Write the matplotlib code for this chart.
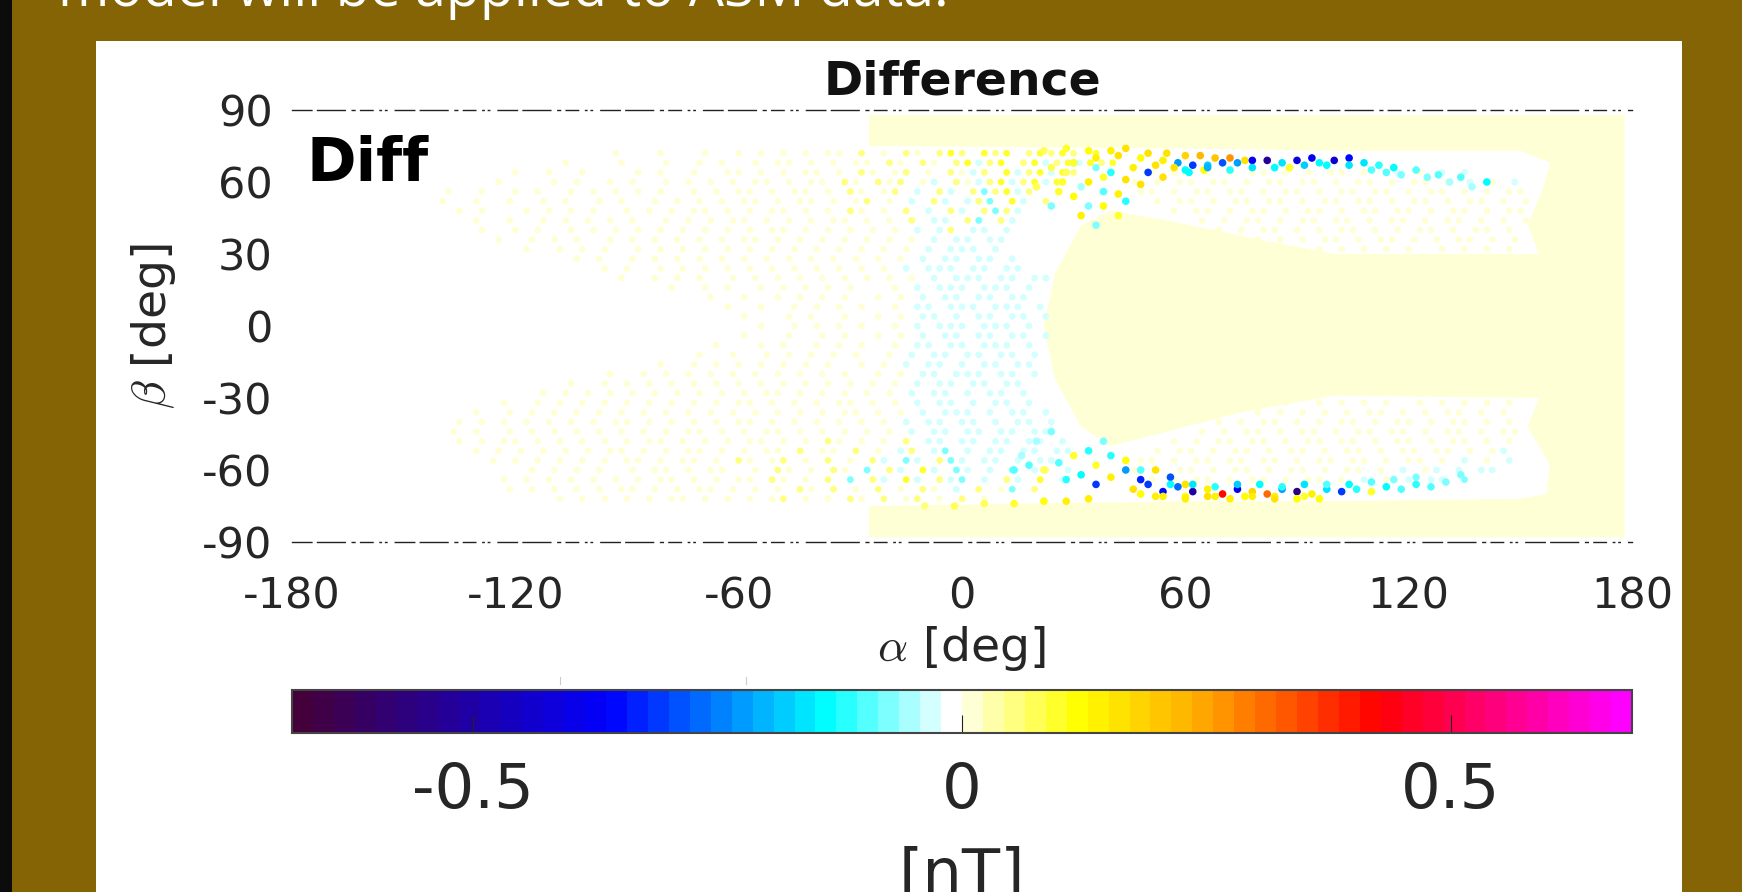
import matplotlib
matplotlib.use('Agg')
import matplotlib.pyplot as plt
from matplotlib.cm import ScalarMappable
from matplotlib.colors import LinearSegmentedColormap, Normalize
from matplotlib.lines import Line2D
from matplotlib.patches import Rectangle

W, H = 1742, 892

# solid pale region of the difference map
solid_alpha = [-25, 178, 178, -25, -25, 60, 100, 150, 157, 158, 152, 155, 100, 75, 55, 40, 32, 25, 22,
               25, 32, 40, 55, 80, 100, 155, 152, 156, 158, 150, 100, 60, -25]
solid_beta = [88, 88, -88, -88, -75, -73, -73, -72, -70, -58, -42, -30, -29, -36, -44, -50, -42, -22, 0,
              22, 42, 48, 44, 36, 30, 30, 42, 57, 68, 73, 73, 74, 75]

# stipple read row by row, one character per 3 deg of alpha, rows 4 deg of beta apart
# left block starts at alpha -150, beta 72
left_rows = [
    ".......... .........y ...y...y.. y.y.y.y.yy .u.y.uy.uY u.YuY.uYuY u.Y",
    ".......... ....y....y ...y..y.y. .y.yy.y.y. yy.uy.uy.u YcuY.uYcuY cYuY",
    ".......... y..y..y... .y.y..y..y y.y.y.yy.y .uy.yu.y.u ycu.YcuYcY u",
    "........y. ...y.y..y. y..y.y.y.y .yy.y.yy.u y.uyu.yc.u ycuYcuYcY",
    "....y..y.. y.y..y.y.y .y.y..y.y. yy.y.yy.y. uy.yu.c.uc .uCuYcu",
    "...y..y..y ..y.y..y.y ..y.y.y.y. yy.y.yy.y. yu.y.c.uc. cuC.Yc.u",
    ".....y.y.. .y.y.y.y.. y.y.y.yy.y .y.yy.y.y. uy.y.u.c.u c.uCuc",
    "......y..y ..y.y.y.y. y..y.y.y.y y.y.y.y.yy .y.y.u.cc. uC.uc",
    ".......y.. y.y..y.y.y .y.y.y.y.y .y.yy.y.y. y.y.y.c.cu .cc.c",
    "........y. .y.y.y..y. y.y.y.y.y. yy.y.y.y.y .y.y.y.c.c c.cc",
    ".......... .y..y.y.y. .y.y.y.y.y .y.y.y.y.y .y.y.y.c.c cc.c",
    ".......... .....y.y.. y.y.y.y.y. y.y.y.y.y. y.y.y.c.cc .cc.c",
    ".......... ........y. y..y.y.y.y .y.y.y.y.y .y.y.c.ccc .cc.cc",
    ".......... .........y ..y.y.y..y .y.y.y.y.y .y.y.y.c.c cc.cc.cc",
    ".......... .......... ....y..y.y ..y.y.y.y. y...y.c.cc c.ccc.c",
    ".......... .......... .......y.. y..y.y.y.y ..y.y.c.cc .cc.cc",
    ".......... .......... .........y ..y..y.y.y .y..y.cc.c cc.ccc.c",
    ".......... .......... .......... y...y.y..y ..y.y.cc.c .cc.cc.c",
    ".......... .......... .......... ..y..y.y.y .y..y.c.cc c.ccc.c",
    ".......... .......... .......... y...y..y.y ..y.y.c.cc .cc.cc.c",
    ".......... .......... ........y. ..y.y..y.y .y..y.cc.c c.ccc.c",
    ".......... .......... ......y..y ..y.y.y.y. y..y.c.cc. cc.cc.c",
    ".......... .......... ...y..y.y. y.y.y.y.y. .y.y.c.cc. c.cc.cc",
    ".......... ........y. .y.y.y.y.y .y.y.y.y.y ..y.y.cc.c cc.cc.c",
    ".......... .....y..y. y.y.y.y.y. y.y.y.y.y. y.y.y.c.cc .cc.cc",
    ".......... ..y.y.y.y. y.y.y.y.y. y.yy.y.y.y .y.y.c.cc. c.cc.c",
    ".........y ..y.y.y.y. y.y.y.y.y. yy.y.y.y.y y.y.y.c.cc .c.cc.c",
    "......y..y .y.y.y.y.y .y.y.y.y.y .y.y.y.y.y y.y.y.c.cc c.c.cc.c",
    ".....y.y.y .y.y.y.y.y y.y.y.y.y. yy.y.y.y.y .y.y.c.cc. cc.c.cc.c",
    "....y.y..y .y.y.y.y.y .y.y.yy.y. y.yy.y.y.y .y.y.c.cc. cc.cc.cc",
    ".....y.y.y y.y.y.y.y. y.yy.y.y.y .yy.y.y.uy .y.y.u.cc. cc.cc.cc.c",
    "......y.y. y.y.y.y.yy .y.y.yy.y. y.yy.u.yy. u.y.cu.cC. c.cc.cc.cc",
    "........y. y.y.y.y.y. yy.y.yy.y. uy.yu.y.u. y.uc.Cc.uC c.cc.c.cc",
    ".......... .y.y.y.y.. y.yy.y.yy. .y.uy.y.uy .C.uc.Yc.C c.c.C.cu.c",
    ".........y .y.y.y.y.y .y.yy.y.y. yy.uy.y.u. C.uc.Yc.uc C.c.uc.Y.c",
    ".........y .y.y.y.y.y y.y.y.yy.y .y.y.uy.u. y.u.y.uy.c .u.yC.u",
    ".......... ....y.y.y. y.y.yy.y.y .y.yu.y.y. uy.u.yu.y. u.y",
]
left_start = (-150, 72)

# right block of the upper arm starts at alpha 45, beta 64
upper_rows = [
    "..y.yy.y.y.yy.y.y.yy.y.yc.y.c.c",
    "y.y.yy.yy.y.yy.yy.y.yy.y.yy.y.c.y.c",
    ".yy.y.yy.yy.y.yy.y.yy.yy.y.yy.y.y.yy",
    "..y.yy.y.yy.yy.y.yy.yy.y.yy.y.yy.y.y",
    "....y.yy.y.yy.y.yy.y.yy.yy.y.yy.y.yy",
    "......y.y.yy.y.yy.yy.y.yy.y.yy.y.y.y",
    "........y.y.yy.y.y.yy.y.y.yy.y.yy.y.",
    "...........y.y.y.yy.y.yy.y.y.yy.y.y.",
    "..............y..y.y.y.y.y..y.y.y.y",
]
upper_start = (45, 64)

# right block of the lower arm starts at alpha 45, beta -32
lower_rows = [
    "..............y..y.y.y.y..y.y.y.y.y",
    "...........y.y.y.y.y.yy.y.y.yy.y.y.",
    "........y.y.yy.y.y.yy.y.yy.y.yy.y.y",
    "......y.y.yy.y.yy.y.yy.yy.y.yy.y.yy",
    "....y.y.yy.yy.y.yy.yy.y.yy.y.yy.y.y",
    "..y.yy.y.yy.y.yy.y.yy.y.yy.yy.y.yc.",
    ".yy.y.yy.yy.yy.y.yy.yy.y.yy.y.c.y.c",
    "y.y.yy.y.yy.y.yy.y.yy.y.c.yc.c.cc",
    "..y.y.yy.y.yy.y.yy.y.c.y.c.cc.C",
]
lower_start = (45, -32)

alpha_step = 3
beta_step = 4
stipple_values = {"y": 0.01, "u": 0.045, "Y": 0.09, "c": -0.035, "C": -0.08}

# coloured points along the rim of the C
rim_alpha = [22, 28, 34, 40, 44, 50, 55, 60, 64, 68, 72, 76, 30, 36, 42, 48, 54, 58, 62, 66, 70, 74, 78, 82, 86,
             90, 94, 96, 100, 104, 108, 112, 116, 122, 128, 134, 141, 52, 57, 61, 65, 46, 50, 54, 40, 44, 48,
             34, 38, 42, 30, 34, 27, 32, 24, 28, 38, 44, 36, 42,
             16, 20, 24, 14, 18, 22, 26, 30, 34, 38, 28, 32, 36, 40, 44, 48, 36, 40, 44, 48, 52, 56, 60, 46, 50,
             54, 58, 62, 66, 70, 74, 78, 82, 86, 90, 94, 98, 102, 106, 110, 114, 118, 122, 126, 130, 134,
             -10, -2, 6, 14, 22, 28, 34, 52, 60, 68, 76, 84, 92,
             60, 66, 72, 78, 84, 88, 92, 98, 104, 110, 114, 118, 125, 131, 137,
             56, 62, 68, 74, 80, 86, 92, 98, 104, 110, 116, 122,
             48, 54, 60, 66, 72, 78, 84, 90, 96, 24, 30, 36, 20, 26, 32, 38]
rim_beta = [73, 74, 73, 73, 74, 72, 72, 71, 71, 70, 70, 69, 68, 70, 71, 70, 69, 68, 67, 67, 68, 68, 69, 69, 68,
            69, 70, 68, 69, 70, 68, 67, 66, 65, 63, 62, 60, 67, 66, 64, 65, 66, 64, 62, 64, 61, 59,
            60, 56, 55, 54, 50, 60, 46, 50, 64, 50, 52, 42, 46,
            -54, -48, -44, -60, -58, -60, -57, -54, -52, -48, -64, -62, -58, -54, -56, -60, -66, -63, -60, -64, -60, -63, -66, -68, -66,
            -69, -67, -69, -68, -70, -68, -69, -70, -68, -69, -70, -68, -69, -68, -69, -67, -68, -66, -67, -65, -62,
            -75, -75, -74, -74, -73, -73, -72, -71, -71, -71, -71, -71, -71,
            65, 66, 65, 66, 66, 66, 67, 67, 67, 65, 64, 63, 62, 60, 58,
            -66, -66, -67, -66, -66, -67, -66, -66, -66, -65, -64, -63,
            -70, -71, -72, -71, -72, -71, -72, -72, -72, 66, 68, 66, 58, 56, 58, 62]
rim_value = [0.08, 0.10, 0.12, 0.14, 0.15, 0.16, 0.17, 0.18, 0.22, 0.20, 0.27, 0.16, -0.08, 0.14, 0.15, 0.12, 0.13, -0.22, -0.30, -0.18, -0.28, -0.22, -0.38, -0.52, -0.15,
             -0.42, -0.38, -0.14, -0.44, -0.36, -0.16, -0.12, -0.14, -0.10, -0.09, -0.10, -0.13, 0.16, 0.15, -0.14, 0.12, 0.14, -0.30, 0.16, -0.12, 0.15, 0.15,
             0.14, -0.10, 0.13, 0.12, -0.08, 0.10, 0.13, -0.07, 0.08, 0.12, -0.12, -0.08, 0.10,
             -0.05, -0.06, -0.07, -0.10, -0.09, 0.08, -0.10, 0.09, -0.12, -0.08, -0.11, -0.13, 0.10, -0.12, 0.12, -0.10, -0.30, 0.14, -0.22, -0.34, 0.16, -0.28, 0.15, 0.15, -0.30,
             -0.36, -0.26, -0.50, 0.14, 0.42, -0.40, 0.18, 0.30, -0.22, -0.56, 0.14, -0.15, -0.30, -0.12, 0.10, -0.14, -0.10, -0.12, -0.09, -0.08, -0.07,
             0.05, 0.07, 0.08, 0.10, 0.12, 0.13, 0.14, 0.13, 0.12, 0.14, 0.12, 0.13, 0.10,
             -0.14, -0.20, -0.12, -0.16, -0.13, 0.10, -0.18, -0.13, -0.16, -0.10, -0.09, -0.08, -0.07, -0.06, -0.06,
             -0.13, -0.16, -0.12, -0.18, -0.14, -0.12, -0.16, -0.10, -0.13, -0.09, -0.08, -0.07,
             0.12, 0.14, 0.13, 0.16, 0.14, 0.13, 0.15, 0.12, 0.11, 0.08, 0.10, -0.08, 0.07, 0.09, -0.06, 0.10]

alpha_ticks = [-180, -120, -60, 0, 60, 120, 180]
beta_ticks = [90, 60, 30, 0, -30, -60, -90]
cbar_ticks = [-0.5, 0, 0.5]
cbar_limit = 0.685

# colormap anchors, in nT
cmap_levels = [-0.685, -0.365, -0.14, -0.0107, 0.12, 0.24, 0.43, 0.685]
cmap_colors = ['#44003a', '#0000ff', '#00ffff', '#ffffff', '#ffff00', '#ffb000', '#ff0000', '#ff00ff']

plt.rcParams['font.family'] = 'DejaVu Sans'
plt.rcParams['mathtext.fontset'] = 'cm'
plt.rcParams['axes.unicode_minus'] = False


def fx(px):
    return px / W


def fy(px):
    return 1 - px / H


def read_block(rows, start):
    # turn a block of stipple rows into alpha, beta, value lists
    a, b, v = [], [], []
    for r, row in enumerate(rows):
        for i, ch in enumerate(row.replace(' ', '')):
            if ch in stipple_values:
                a.append(start[0] + alpha_step * i + (1.5 if r % 2 else 0))
                b.append(start[1] - beta_step * r)
                v.append(stipple_values[ch])
    return a, b, v


anchors = [(v + cbar_limit) / (2 * cbar_limit) for v in cmap_levels]
cmap = LinearSegmentedColormap.from_list('diff', list(zip(anchors, cmap_colors)), N=64)
norm = Normalize(-cbar_limit, cbar_limit)
pale = cmap(norm(0.01))

fig = plt.figure(figsize=(W / 100, H / 100), dpi=100, facecolor='#846404')
# background panels sit under the axes
fig.add_artist(Rectangle((0, 0), fx(12), 1, transform=fig.transFigure, color='#0c0c0c', lw=0, zorder=-2))
fig.add_artist(Rectangle((fx(96), 0), fx(1682 - 96), fy(41), transform=fig.transFigure, color='white', lw=0, zorder=-2))
fig.text(fx(58), fy(6), 'model will be applied to ASM data.', color='white', fontsize=40,
         family='Open Sans', va='baseline')

ax = fig.add_axes([fx(292), fy(542), fx(1340), 432 / H])
ax.patch.set_alpha(0)
ax.set_xlim(-180, 180)
ax.set_ylim(-90, 90)

ax.fill(solid_alpha, solid_beta, color=pale, lw=0, zorder=1)

for rows, start in [(left_rows, left_start), (upper_rows, upper_start), (lower_rows, lower_start)]:
    st_a, st_b, st_v = read_block(rows, start)
    ax.scatter(st_a, st_b, c=st_v, cmap=cmap, norm=norm, s=24, lw=0, zorder=2)
ax.scatter(rim_alpha, rim_beta, c=rim_value, cmap=cmap, norm=norm, s=30, lw=0, zorder=3)

for side in ['left', 'right']:
    ax.spines[side].set_visible(False)
for side in ['top', 'bottom']:
    ax.spines[side].set_linewidth(1.0)
    ax.spines[side].set_linestyle((0, (14, 4, 20, 5, 2, 4, 9, 5, 1, 3, 1, 6)))
    ax.spines[side].set_color('#222222')

ax.set_xticks(alpha_ticks)
ax.set_yticks(beta_ticks)
ax.tick_params(length=0, labelsize=31, labelcolor='#262626')
ax.tick_params(axis='x', pad=24)
ax.tick_params(axis='y', pad=14)
ax.set_xlabel(r'$\alpha$ [deg]', fontsize=34, color='#262626')
ax.set_ylabel(r'$\beta$ [deg]', fontsize=34, color='#262626')
ax.xaxis.set_label_coords(0.5, -0.19)
ax.yaxis.set_label_coords(-0.085, 0.5)
ax.set_title('Difference', fontsize=34, fontweight='bold', color='#111111', pad=11)
ax.text(0.011, 0.873, 'Diff', transform=ax.transAxes, fontsize=43, fontweight='bold', color='black', va='center')

cax = fig.add_axes([fx(292), fy(733), fx(1340), 43 / H])
cb = fig.colorbar(ScalarMappable(norm=norm, cmap=cmap), cax=cax, orientation='horizontal')
cb.set_ticks(cbar_ticks)
cb.set_ticklabels(['-0.5', '0', '0.5'])
cb.outline.set_edgecolor('#444444')
cb.outline.set_linewidth(1.5)
cax.tick_params(direction='in', length=13, width=0.8, color='#222222', labelsize=45, labelcolor='#262626', pad=20)
cb.set_label('[nT]', fontsize=45, color='#262626', labelpad=18)

# two stray grey marks above the colour bar
for px in [560, 746]:
    fig.add_artist(Line2D([fx(px), fx(px)], [fy(677), fy(684)], color='#cccccc', lw=0.8))

fig.savefig('out.png', dpi=100, facecolor=fig.get_facecolor())
